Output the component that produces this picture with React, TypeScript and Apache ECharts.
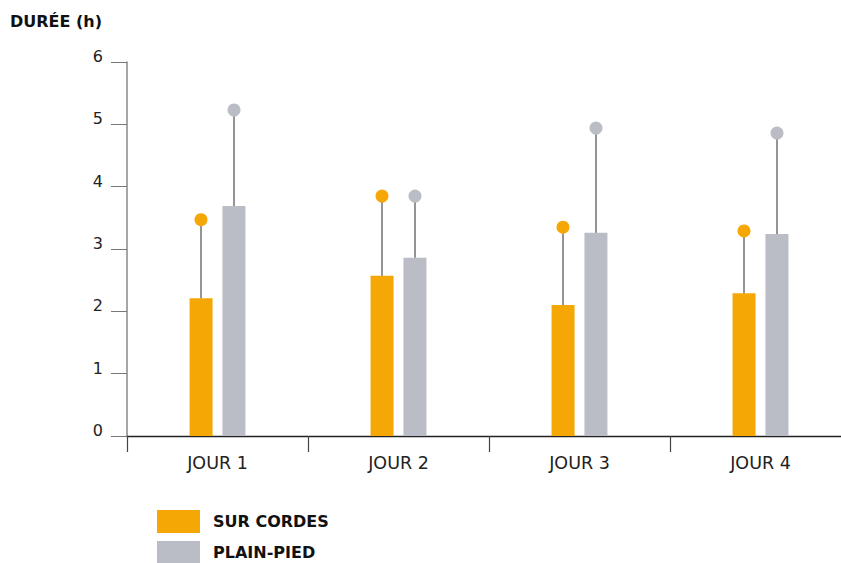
import React, { useEffect, useRef } from "react";
import * as echarts from "echarts";

const categories = ["JOUR 1", "JOUR 2", "JOUR 3", "JOUR 4"];
const surCordes = [2.21, 2.57, 2.1, 2.29];
const surCordesTop = [3.47, 3.85, 3.35, 3.29];
const plainPied = [3.69, 2.86, 3.26, 3.24];
const plainPiedTop = [5.23, 3.85, 4.94, 4.86];
const yTicks = [0, 1, 2, 3, 4, 5, 6];

const ORANGE = "#F5A805";
const GREY = "#BBBDC6";

function errorSeries(name: string, base: number[], top: number[], color: string, offset: number) {
  return {
    type: "custom",
    name,
    z: 5,
    encode: { x: 0, y: [1, 2] },
    data: base.map((b, i) => [i, b, top[i]]),
    renderItem: (params: any, api: any) => {
      const p0 = api.coord([api.value(0), api.value(1)]);
      const p1 = api.coord([api.value(0), api.value(2)]);
      const x = p0[0] + offset;
      return {
        type: "group",
        children: [
          {
            type: "line",
            shape: { x1: x, y1: p0[1], x2: x, y2: p1[1] },
            style: { stroke: "#2a2a2a", lineWidth: 1 },
          },
          {
            type: "circle",
            shape: { cx: x, cy: p1[1], r: 6.5 },
            style: { fill: color },
          },
        ],
      };
    },
  };
}

export default function App() {
  const ref = useRef<HTMLDivElement>(null);
  useEffect(() => {
    if (!ref.current) return;
    const chart = echarts.init(ref.current, null, { renderer: "svg" });
    chart.setOption({
      animation: false,
      title: {
        text: "DURÉE (h)",
        left: 10,
        top: 13,
        padding: 0,
        textStyle: { fontFamily: "DejaVu Sans", fontWeight: "bold", fontSize: 16, color: "#111" },
      },
      legend: {
        data: ["SUR CORDES", "PLAIN-PIED"],
        orient: "vertical",
        left: 157,
        top: 510,
        height: 100,
        padding: 0,
        itemWidth: 43,
        itemHeight: 23,
        itemGap: 8,
        icon: "rect",
        textStyle: {
          fontFamily: "DejaVu Sans",
          fontWeight: "bold",
          fontSize: 16,
          color: "#111",
          padding: [0, 0, 0, 8],
        },
      },
      grid: { left: 127, right: 0, top: 62, bottom: 127, containLabel: false },
      xAxis: {
        type: "category",
        data: categories,
        axisLine: { lineStyle: { color: "#222", width: 1.3 } },
        axisTick: { show: true, length: 16, interval: 0, lineStyle: { color: "#444", width: 1.2 } },
        axisLabel: { margin: 18, fontFamily: "DejaVu Sans", fontSize: 17.5, color: "#222" },
      },
      yAxis: {
        type: "value",
        min: yTicks[0],
        max: yTicks[yTicks.length - 1],
        interval: 1,
        splitLine: { show: false },
        axisLine: { show: true, lineStyle: { color: "#888", width: 1.5 } },
        axisTick: { show: true, length: 16, lineStyle: { color: "#777" } },
        axisLabel: {
          margin: 24,
          fontFamily: "DejaVu Sans",
          fontSize: 16,
          color: "#222",
          verticalAlign: "bottom",
          lineHeight: 11,
        },
      },
      series: [
        {
          type: "bar",
          name: "SUR CORDES",
          data: surCordes,
          barWidth: 23,
          barGap: "43%",
          itemStyle: { color: ORANGE },
        },
        {
          type: "bar",
          name: "PLAIN-PIED",
          data: plainPied,
          barWidth: 23,
          itemStyle: { color: GREY },
        },
        errorSeries("err1", surCordes, surCordesTop, ORANGE, -16.5),
        errorSeries("err2", plainPied, plainPiedTop, GREY, 16.5),
      ],
    });
    return () => chart.dispose();
  }, []);
  return (
    <div
      style={{
        position: "fixed",
        left: 0,
        top: 0,
        width: 841,
        height: 563,
        overflow: "hidden",
        background: "#fff",
      }}
    >
      <div ref={ref} style={{ width: 851, height: 563 }} />
    </div>
  );
}
